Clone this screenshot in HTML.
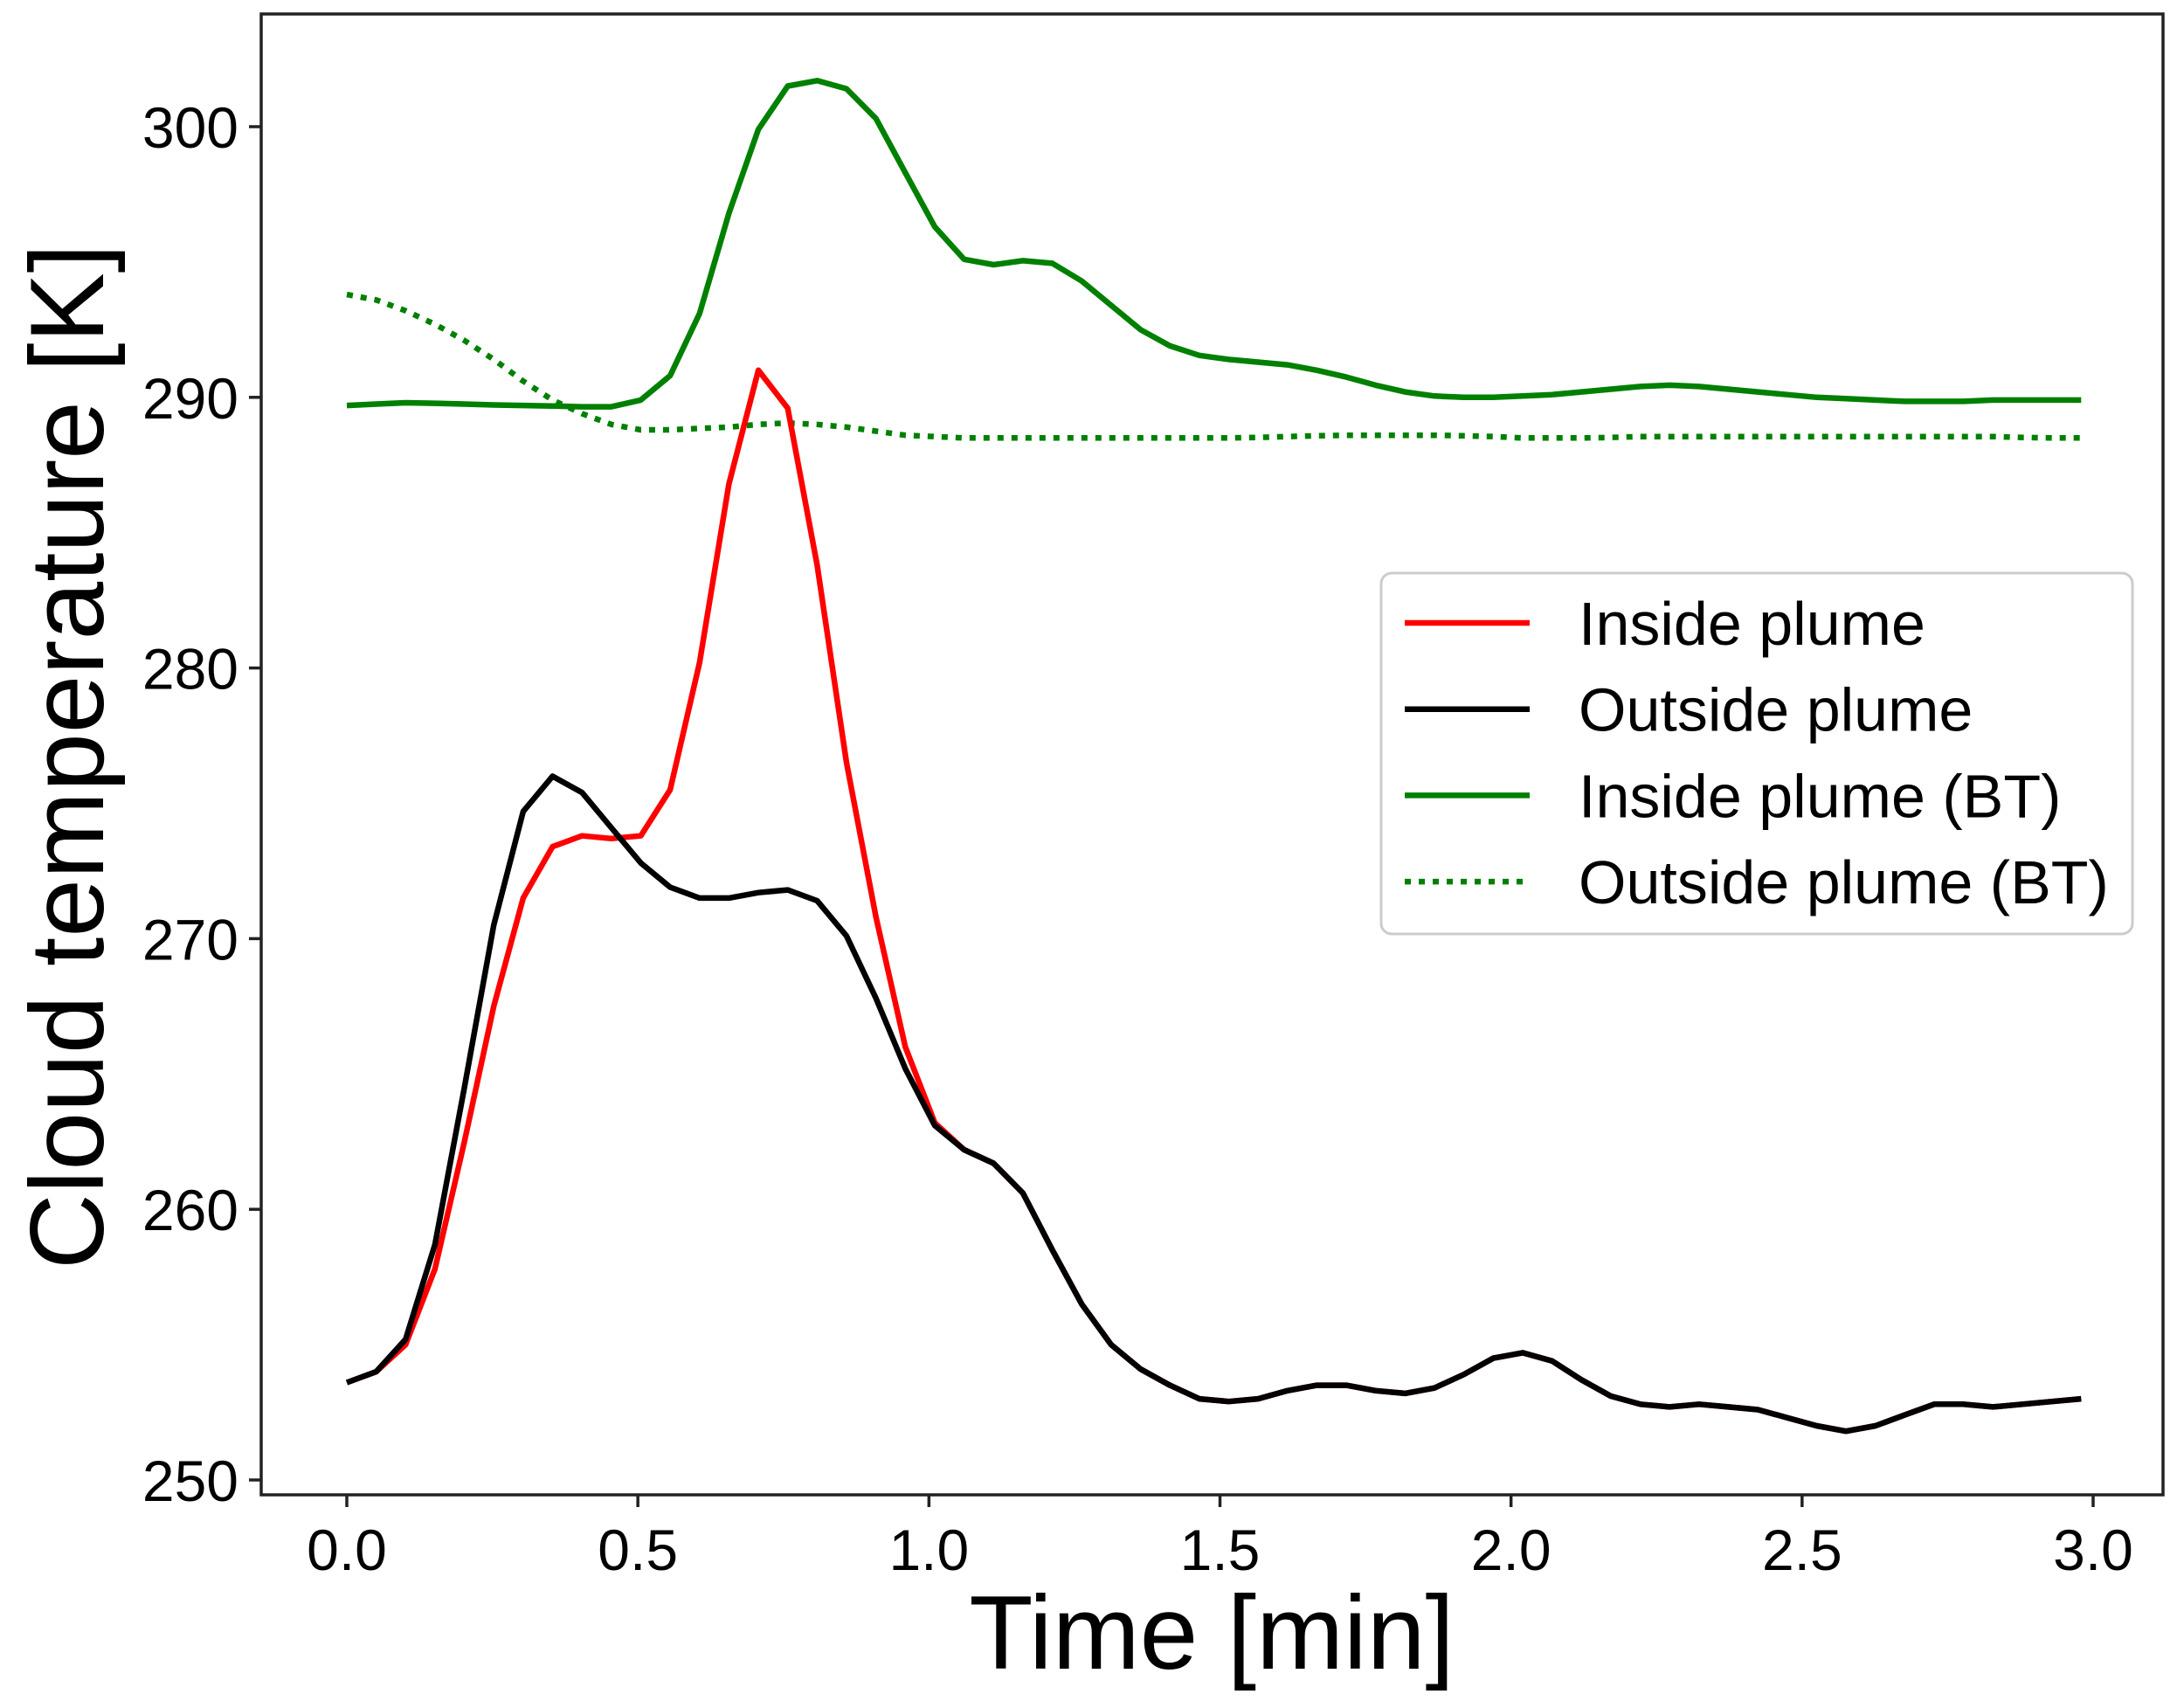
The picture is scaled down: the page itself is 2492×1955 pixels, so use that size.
<!DOCTYPE html>
<html><head><meta charset="utf-8"><style>
html,body{margin:0;padding:0;background:#fff;}
svg{display:block;font-family:"Liberation Sans",Arial,sans-serif;}
</style></head><body>
<svg id="chart" width="2492" height="1955" viewBox="0 0 2492 1955" xmlns="http://www.w3.org/2000/svg">
<g id="plot"></g>
</svg>
<script>
const xTicks = [0.0, 0.5, 1.0, 1.5, 2.0, 2.5, 3.0];
const xTickLabels = ["0.0","0.5","1.0","1.5","2.0","2.5","3.0"];
const yTicks = [250, 260, 270, 280, 290, 300];
const yTickLabels = ["250","260","270","280","290","300"];
const timeStep = 0.0505;
const insidePlume = [253.6,254.0,255.0,257.8,262.5,267.5,271.5,273.4,273.8,273.7,273.8,275.5,280.2,286.8,291.0,289.6,283.8,276.5,270.8,266.0,263.2,262.2,261.7,260.6,258.5,256.5,255.0,254.1,253.5,253.0,252.9,253.0,253.3,253.5,253.5,253.3,253.2,253.4,253.9,254.5,254.7,254.4,253.7,253.1,252.8,252.7,252.8,252.7,252.6,252.3,252.0,251.8,252.0,252.4,252.8,252.8,252.7,252.8,252.9,253.0];
const outsidePlume = [253.6,254.0,255.2,258.7,264.5,270.5,274.7,276.0,275.4,274.1,272.8,271.9,271.5,271.5,271.7,271.8,271.4,270.1,267.8,265.2,263.1,262.2,261.7,260.6,258.5,256.5,255.0,254.1,253.5,253.0,252.9,253.0,253.3,253.5,253.5,253.3,253.2,253.4,253.9,254.5,254.7,254.4,253.7,253.1,252.8,252.7,252.8,252.7,252.6,252.3,252.0,251.8,252.0,252.4,252.8,252.8,252.7,252.8,252.9,253.0];
const insidePlumeBT = [289.7,289.75,289.8,289.78,289.75,289.72,289.7,289.68,289.65,289.65,289.9,290.8,293.1,296.8,299.9,301.5,301.7,301.4,300.3,298.3,296.3,295.1,294.9,295.05,294.95,294.3,293.4,292.5,291.9,291.55,291.4,291.3,291.2,291.0,290.75,290.45,290.2,290.05,290.0,290.0,290.05,290.1,290.2,290.3,290.4,290.45,290.4,290.3,290.2,290.1,290.0,289.95,289.9,289.85,289.85,289.85,289.9,289.9,289.9,289.9];
const outsidePlumeBT = [293.8,293.6,293.2,292.7,292.1,291.4,290.6,289.9,289.4,289.0,288.8,288.8,288.85,288.9,289.0,289.05,289.0,288.9,288.75,288.6,288.55,288.5,288.5,288.5,288.5,288.5,288.5,288.5,288.5,288.5,288.5,288.52,288.55,288.58,288.6,288.6,288.6,288.6,288.58,288.55,288.5,288.5,288.5,288.52,288.55,288.55,288.55,288.55,288.55,288.55,288.55,288.55,288.55,288.55,288.55,288.55,288.55,288.52,288.5,288.5];

const NS = "http://www.w3.org/2000/svg";
const L = 299, R = 2476, T = 16, B = 1711;
function xs(v){ return 397 + (v - 0) * (2396 - 397) / 3; }
function ys(v){ return 1694 - (v - 250) * (1694 - 145) / 50; }
const g = document.getElementById('plot');
function mk(tag, attrs, parent){
  const e = document.createElementNS(NS, tag);
  for (const k in attrs) e.setAttribute(k, attrs[k]);
  (parent || g).appendChild(e);
  return e;
}
function series(vals, color, name, dash){
  const d = vals.map((v,i)=>(i?'L':'M')+xs(i*timeStep).toFixed(1)+','+ys(v).toFixed(1)).join(' ');
  const p = mk('path', {d:d, fill:'none', stroke:color, 'stroke-width':6.5, 'stroke-linejoin':'round'});
  if (dash) p.setAttribute('stroke-dasharray', dash);
  
  
}
series(outsidePlumeBT, '#008000', 'line-outside-plume-bt', '7,9');
series(insidePlumeBT, '#008000', 'line-inside-plume-bt');
series(insidePlume, '#ff0000', 'line-inside-plume');
series(outsidePlume, '#000000', 'line-outside-plume');

const frame = mk('rect', {x:L, y:T, width:R-L, height:B-T, fill:'none', stroke:'#222', 'stroke-width':3.5});



xTicks.forEach((v,i)=>{
  const x = xs(v);
  const t = mk('line', {x1:x, x2:x, y1:B, y2:B+14, stroke:'#222', 'stroke-width':3.5});
  
  
  const lb = mk('text', {x:x, y:B+86, 'font-size':66, 'text-anchor':'middle', fill:'#000'});
  lb.textContent = xTickLabels[i];
  
  
});
yTicks.forEach((v,i)=>{
  const y = ys(v);
  const t = mk('line', {x1:L-14, x2:L, y1:y, y2:y, stroke:'#222', 'stroke-width':3.5});
  
  
  const lb = mk('text', {x:L-26, y:y+24, 'font-size':66, 'text-anchor':'end', fill:'#000'});
  lb.textContent = yTickLabels[i];
  
  
});
const xl = mk('text', {x:1387, y:1910, 'font-size':120, 'text-anchor':'middle', fill:'#000'});
xl.textContent = 'Time [min]';


const yl = mk('text', {x:0, y:0, 'font-size':120, 'text-anchor':'middle', fill:'#000', transform:'translate(118,866) rotate(-90)'});
yl.textContent = 'Cloud temperature [K]';



const lg = mk('g', {});


const box = mk('rect', {x:1581, y:656, width:860, height:413, rx:12, fill:'#fff', 'fill-opacity':0.85, stroke:'#ccc', 'stroke-width':3}, lg);


const entries = [['Inside plume','#ff0000',null],['Outside plume','#000000',null],['Inside plume (BT)','#008000',null],['Outside plume (BT)','#008000','7,9']];
entries.forEach((e,i)=>{
  const y = 713 + i*98.7;
  const ln = mk('line', {x1:1608, x2:1751, y1:y, y2:y, stroke:e[1], 'stroke-width':6.5}, lg);
  if (e[2]) ln.setAttribute('stroke-dasharray', e[2]);
  
  
  const tx = mk('text', {x:1807, y:y+25, 'font-size':70, fill:'#000'}, lg);
  tx.textContent = e[0];
  
  
});
</script>
</body></html>
